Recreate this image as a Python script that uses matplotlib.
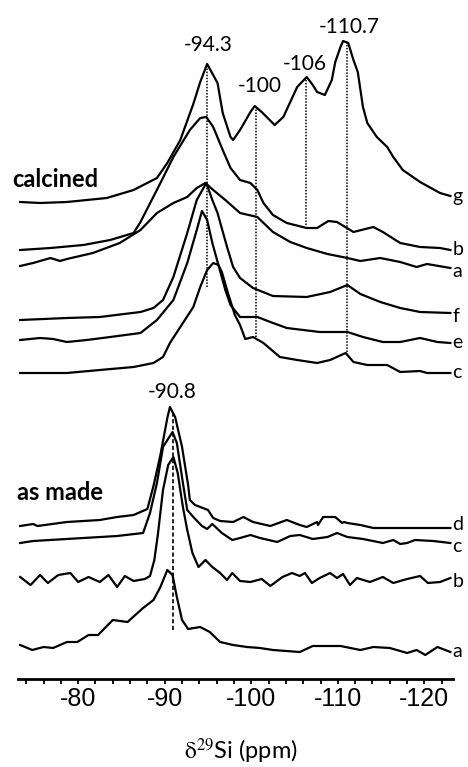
import numpy as np
import matplotlib.pyplot as plt

plt.rcParams['font.family'] = ['Lato', 'DejaVu Sans']
plt.rcParams['mathtext.fontset'] = 'stix'
plt.rcParams['axes.unicode_minus'] = False

# calcined samples (ppm, intensity above own baseline)
calc_g_ppm = [-73.3, -75.6, -78.7, -83.3, -86.4, -89.1, -90.3, -91.8, -93.3, -94.1,
              -94.9, -96.1, -96.7, -97.6, -97.9, -98.7, -99.9, -100.4, -101.2, -102.7,
              -103.7, -105.3, -106.4, -107.1, -107.6, -108.5, -109.3, -109.7, -110.3, -110.6,
              -111.2, -111.8, -112.3, -112.9, -113.4, -114.5, -115.7, -116.4, -117.5, -119.5,
              -121.8, -123.0]
calc_g_int = [-6, -7, -6, -2, 6, 18, 33, 56, 92, 114,
              132, 113, 83, 59, 56, 66, 84, 90, 84, 71,
              79, 109, 119, 111, 104, 101, 116, 134, 149, 155,
              153, 136, 124, 89, 73, 59, 49, 39, 26, 14,
              3, 0]

calc_b_ppm = [-73.3, -76.8, -80.6, -83.7, -86.4, -87.2, -89.5, -91.0, -92.9, -94.1,
              -94.8, -95.6, -96.7, -97.6, -98.7, -99.9, -100.7, -101.4, -102.5, -104.1,
              -106.4, -107.6, -108.9, -109.9, -111.8, -114.1, -115.2, -117.2, -119.5, -121.8,
              -123.0]
calc_b_int = [0, 2, 5, 10, 17, 28, 67, 93, 120, 132,
              133, 123, 100, 82, 70, 67, 60, 47, 35, 27,
              22, 22, 29, 28, 18, 23, 18, 7, 3, 2,
              0]

calc_a_ppm = [-73.3, -74.8, -76.8, -77.9, -78.7, -81.7, -84.8, -87.2, -89.1, -91.0,
              -92.6, -93.7, -94.7, -95.6, -97.0, -98.7, -100.7, -102.5, -104.5, -106.4,
              -108.8, -111.1, -112.6, -114.9, -117.2, -119.1, -120.3, -123.0]
calc_a_int = [2, 5, 10, 7, 9, 15, 25, 38, 55, 65,
              71, 80, 85, 78, 68, 55, 51, 36, 26, 20,
              14, 10, 7, 10, 6, 1, 4, 0]

calc_f_ppm = [-73.3, -78.7, -82.5, -87.2, -88.7, -89.8, -91.0, -92.6, -93.7, -94.8,
              -95.5, -96.1, -97.2, -97.9, -98.7, -100.2, -102.5, -106.4, -109.1, -111.1,
              -112.6, -114.9, -117.2, -119.5, -123.0]
calc_f_int = [-7, -5, -4, 1, 5, 13, 36, 80, 113, 130,
              113, 100, 66, 46, 35, 25, 17, 16, 21, 28,
              19, 11, 5, 1, 0]

calc_e_ppm = [-73.3, -75.6, -77.1, -78.7, -81.0, -83.7, -87.2, -89.1, -91.0, -92.6,
              -93.7, -94.3, -94.9, -95.5, -96.2, -97.0, -97.6, -98.7, -100.7, -102.2,
              -104.1, -107.9, -111.1, -112.9, -115.2, -117.2, -119.5, -121.5, -123.0]
calc_e_int = [3, 5, 4, 1, 3, 6, 10, 23, 43, 80,
              113, 132, 123, 100, 78, 53, 38, 26, 26, 21,
              15, 11, 11, 6, 1, 1, 5, 1, 0]

calc_c_ppm = [-73.3, -78.7, -82.5, -86.4, -88.7, -89.8, -90.6, -91.8, -93.3, -94.1,
              -94.9, -95.6, -96.2, -96.6, -97.3, -98.1, -98.7, -99.3, -100.2, -101.4,
              -103.3, -105.3, -107.6, -109.1, -110.9, -111.8, -113.4, -115.7, -117.2, -119.5,
              -120.3, -123.0]
calc_c_int = [0, 0, 3, 6, 10, 16, 30, 46, 66, 86,
              103, 110, 108, 101, 80, 58, 48, 34, 36, 30,
              16, 13, 10, 13, 20, 11, 8, 8, 1, 2,
              0, 0]

# as made samples
made_d_ppm = [-73.3, -74.8, -75.3, -78.7, -82.5, -84.5, -86.4, -88.0, -88.7, -89.5,
              -90.3, -90.6, -91.2, -92.0, -92.7, -92.9, -93.5, -95.0, -95.6, -96.4,
              -97.9, -99.1, -100.2, -102.2, -104.1, -105.6, -106.4, -107.6, -107.7, -108.3,
              -109.7, -110.5, -110.7, -111.1, -112.6, -114.1, -123.0]
made_d_int = [2, 4, 2, 6, 8, 11, 13, 19, 42, 73,
              110, 121, 111, 81, 43, 28, 23, 18, 10, 7,
              6, 11, 6, 2, 8, 3, 1, 6, 3, 11,
              11, 5, 6, 5, 3, 0, 0]

made_c_ppm = [-73.3, -74.8, -80.6, -84.5, -87.5, -88.3, -89.1, -89.8, -90.9, -91.4,
              -92.1, -92.6, -93.3, -94.3, -94.9, -95.5, -96.6, -97.8, -98.7, -99.9,
              -101.0, -103.0, -104.5, -105.6, -107.1, -108.8, -109.9, -111.1, -112.9, -115.2,
              -116.4, -117.2, -118.0, -118.9, -121.0, -123.0]
made_c_int = [0, 2, 5, 7, 10, 30, 60, 96, 111, 100,
              60, 33, 26, 17, 14, 19, 10, 3, 5, 8,
              5, 1, 7, 8, 4, 6, 10, 6, 4, 0,
              3, -1, 0, 3, 2, 0]

made_b_ppm = [-73.3, -74.5, -75.6, -76.5, -77.7, -79.1, -80.0, -81.2, -82.5, -83.5,
              -84.5, -85.4, -86.4, -87.7, -88.3, -88.8, -89.2, -89.8, -90.4, -91.0,
              -91.5, -92.1, -92.6, -93.2, -93.9, -94.7, -95.5, -96.4, -97.2, -97.8,
              -98.7, -99.9, -101.2, -102.2, -103.6, -104.7, -105.6, -106.2, -107.0, -107.9,
              -109.1, -109.9, -110.6, -111.4, -112.2, -113.7, -115.2, -116.4, -118.0, -119.5,
              -120.4, -121.8, -123.0]
made_b_int = [1, -7, 3, -5, 3, 5, -4, 1, -4, 3,
              -9, 2, -3, -1, 2, 18, 43, 88, 113, 121,
              105, 71, 48, 25, 11, 18, 11, 5, -2, 5,
              -3, -4, -1, -8, 1, 5, 2, 5, -5, 0,
              5, 0, 4, -7, 0, -4, 1, -5, -1, 2,
              -5, -4, 0]

made_a_ppm = [-73.3, -74.7, -76.0, -77.1, -78.7, -79.9, -81.2, -82.3, -84.0, -85.7,
              -87.5, -88.7, -89.5, -90.3, -90.9, -91.4, -92.0, -92.7, -94.1, -95.2,
              -96.4, -97.9, -99.5, -101.0, -102.5, -105.6, -107.1, -110.3, -112.6, -114.1,
              -116.0, -118.0, -119.1, -120.1, -121.5, -123.0]
made_a_int = [7, 2, 5, 4, 10, 10, 17, 17, 32, 30,
              44, 52, 65, 82, 77, 55, 32, 23, 25, 20,
              10, 7, 5, 4, 2, 0, 6, 6, 2, 5,
              4, -1, 2, -3, 5, 0]

# stacking offset, label, label drop below curve end
traces = [
    (calc_g_ppm, calc_g_int, 483, 'g', 6),
    (calc_b_ppm, calc_b_int, 429, 'b', 5),
    (calc_a_ppm, calc_a_int, 411, 'a', 9),
    (calc_f_ppm, calc_f_int, 366, 'f', 9),
    (calc_e_ppm, calc_e_int, 336, 'e', 5),
    (calc_c_ppm, calc_c_int, 306, 'c', 5),
    (made_d_ppm, made_d_int, 151, 'd', 2),
    (made_c_ppm, made_c_int, 136, 'c', 9),
    (made_b_ppm, made_b_int, 101, 'b', 9),
    (made_a_ppm, made_a_int, 27, 'a', 5),
]

# peak markers
peak_labels = ['-94.3', '-100', '-106', '-110.7']
peak_line_x = [-94.9, -100.6, -106.3, -111.0]
peak_line_y = [(392, 615), (342, 572), (454, 602), (324, 638)]
peak_text_x = [-95.0, -101.0, -106.2, -111.3]
peak_text_y = [628, 587, 609, 646]

fig = plt.figure(figsize=(4.68, 7.67), dpi=100)
ax = fig.add_axes([18/468, 88/767, 435/468, 679/767])

for ppm, inten, off, lab, drop in traces:
    ax.plot(ppm, np.array(inten) + off, color='black', lw=1.6, solid_joinstyle='round')
    ax.text(-123.25, off - drop, lab, fontsize=14, ha='left', va='baseline')

for lab, lx, (y0, y1), tx, ty in zip(peak_labels, peak_line_x, peak_line_y, peak_text_x, peak_text_y):
    ax.plot([lx, lx], [y0, y1], color='black', lw=1.1, linestyle=(0, (1, 1)))
    ax.text(tx, ty, lab, fontsize=15, ha='center', va='baseline')

ax.plot([-90.9, -90.9], [49, 269], color='black', lw=1.2, linestyle=(0, (2.5, 1.5)))
ax.text(-90.8, 281, '-90.8', fontsize=15, ha='center', va='baseline')

ax.text(-72.4, 492, 'calcined', fontsize=17, fontweight='bold', ha='left', va='baseline')
ax.text(-72.9, 179, 'as made', fontsize=17, fontweight='bold', ha='left', va='baseline')

ax.set_xlim(-73.05, -123.3)
ax.set_ylim(0, 679)
for s in ['left', 'top', 'right']:
    ax.spines[s].set_visible(False)
ax.spines['bottom'].set_linewidth(2)
ax.set_yticks([])
ax.set_xticks(np.arange(-80, -121, -10))
ax.set_xticks(np.arange(-74, -123, -2), minor=True)
ax.tick_params(axis='x', which='both', direction='out', width=1.3, length=3.5, pad=2, labelsize=18)
for t in ax.get_xticklabels():
    t.set_fontfamily('Liberation Sans')

fig.text(241/468, 1 - 751/767, r'$\mathrm{\delta}^{29}$Si (ppm)', fontsize=17, ha='center', va='center')

fig.savefig('out.png', dpi=100)
